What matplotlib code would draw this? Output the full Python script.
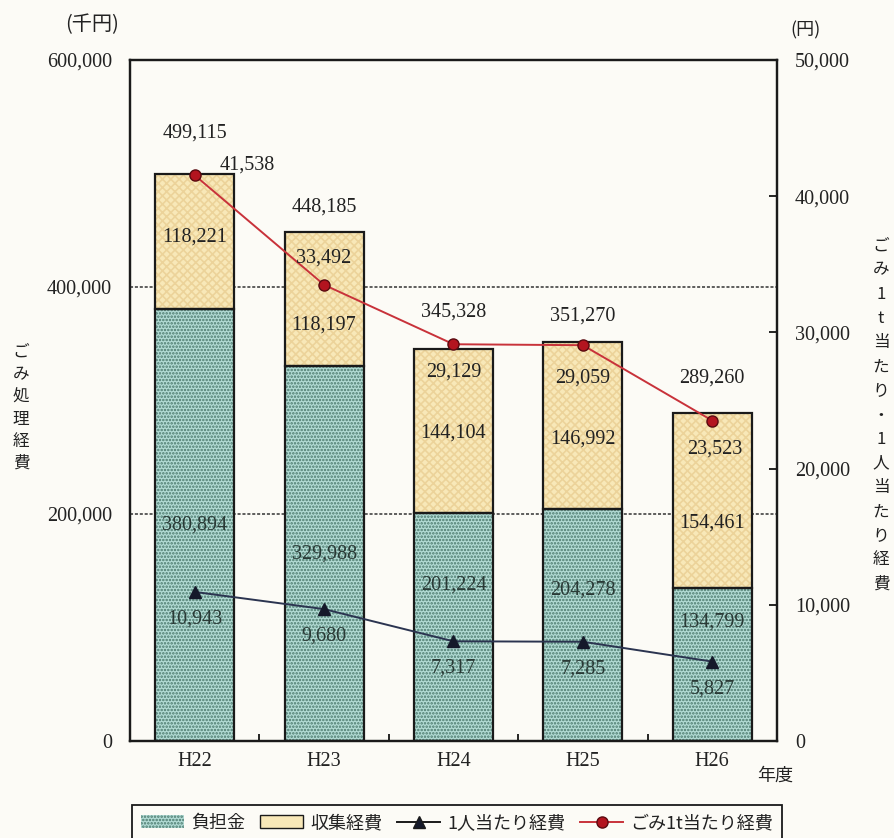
import matplotlib.pyplot as plt
from matplotlib.patches import Patch
from matplotlib.lines import Line2D
from matplotlib.ticker import FuncFormatter, FixedLocator

years = ['H22', 'H23', 'H24', 'H25', 'H26']
futankin = [380894, 329988, 201224, 204278, 134799]      # 負担金
shushu = [118221, 118197, 144104, 146992, 154461]        # 収集経費
per_ton = [41538, 33492, 29129, 29059, 23523]            # ごみ1t当たり経費
per_person = [10943, 9680, 7317, 7285, 5827]             # 1人当たり経費

JP = ['Noto Sans CJK JP', 'DejaVu Sans']
NUM = ['Liberation Serif', 'Noto Sans CJK JP']
txt = '#222222'
bg = '#fcfbf6'
fs = 14.5

plt.rcParams['hatch.linewidth'] = 1.2

fig = plt.figure(figsize=(8.94, 8.38), dpi=100, facecolor=bg)
ax = fig.add_axes([0.1454, 0.1158, 0.7237, 0.8126])
ax.set_facecolor(bg)
x = list(range(len(years)))
w = 0.61
totals = [a + b for a, b in zip(futankin, shushu)]

# dotted grid behind the bars
for yv in (200000, 400000):
    ax.axhline(yv, color='#333333', linestyle=(0, (2, 1.2)), linewidth=1.1, zorder=1)

# bottom: 負担金 (teal, dense dots)
ax.bar(x, futankin, w, color='#b2dbd4', edgecolor='#4a786c', hatch='.....', linewidth=0, zorder=2)
ax.bar(x, futankin, w, fill=False, edgecolor='#1a1a1a', linewidth=1.6, zorder=3)
# top: 収集経費 (light yellow)
ax.bar(x, shushu, w, bottom=futankin, color='#f8e8b8', edgecolor='#ecd39a', hatch='xxxx', linewidth=0, zorder=2)
ax.bar(x, shushu, w, bottom=futankin, fill=False, edgecolor='#1a1a1a', linewidth=1.6, zorder=3)

ax.set_xlim(-0.5, 4.5)
ax.set_ylim(0, 600000)
ax.set_yticks([0, 200000, 400000, 600000])
ax.yaxis.set_major_formatter(FuncFormatter(lambda v, p: f'{int(v):,}'))
ax.set_xticks(x)
ax.set_xticklabels(years)
ax.xaxis.set_minor_locator(FixedLocator([0.5, 1.5, 2.5, 3.5]))
ax.tick_params(axis='x', which='major', length=0, pad=8)
ax.tick_params(axis='x', which='minor', direction='in', length=5, width=1.2)
ax.tick_params(axis='y', direction='in', length=0, pad=13)
for lab in ax.get_xticklabels() + ax.get_yticklabels():
    lab.set_family(NUM)
    lab.set_fontsize(fs)
    lab.set_color(txt)
for s in ax.spines.values():
    s.set_linewidth(1.6)
    s.set_color('#1a1a1a')

# value labels on bars
total_off = [41, 25, 37, 26, 35]
top_off = [5, -26, -2, -13, -23]
bot_off = [0, 0, 42, 35, 42]
for i in x:
    ax.annotate(f'{totals[i]:,}', (i, totals[i]), xytext=(0, total_off[i]), textcoords='offset pixels',
                ha='center', va='center', family=NUM, fontsize=fs, color=txt, zorder=6)
    ax.annotate(f'{shushu[i]:,}', (i, futankin[i] + shushu[i] / 2), xytext=(0, top_off[i]),
                textcoords='offset pixels', ha='center', va='center', family=NUM, fontsize=fs, color=txt, zorder=6)
    ax.annotate(f'{futankin[i]:,}', (i, futankin[i] / 2), xytext=(0, bot_off[i]),
                textcoords='offset pixels', ha='center', va='center', family=NUM, fontsize=fs, color='#2a3a36', zorder=6)

# right axis with lines
ax2 = ax.twinx()
ax2.set_ylim(0, 50000)
ax2.set_yticks(range(0, 50001, 10000))
ax2.yaxis.set_major_formatter(FuncFormatter(lambda v, p: f'{int(v):,}'))
ax2.tick_params(axis='y', direction='in', length=6, width=1.2, pad=13)
for lab in ax2.get_yticklabels():
    lab.set_family(NUM)
    lab.set_fontsize(fs)
    lab.set_color(txt)
for s in ax2.spines.values():
    s.set_linewidth(1.6)
    s.set_color('#1a1a1a')

ax2.plot(x, per_ton, color='#c8323a', linewidth=1.4, marker='o', markersize=8,
         markerfacecolor='#b3141f', markeredgecolor='#5a0a10', zorder=5)
ax2.plot(x, per_person, color='#2b3450', linewidth=1.4, marker='^', markersize=8,
         markerfacecolor='#15192a', markeredgecolor='#15192a', zorder=5)

ton_off = [(53, 10), (0, 27), (0, -28), (0, -33), (2, -28)]
for i in x:
    ax2.annotate(f'{per_ton[i]:,}', (i, per_ton[i]), xytext=ton_off[i], textcoords='offset pixels',
                 ha='center', va='center', family=NUM, fontsize=fs, color=txt, zorder=7)
    ax2.annotate(f'{per_person[i]:,}', (i, per_person[i]), xytext=(0, -27), textcoords='offset pixels',
                 ha='center', va='center', family=NUM, fontsize=fs, color='#2a3a36', zorder=7)

# axis titles
fig.text(92 / 894, 1 - 25 / 838, '(千円)', family=JP, fontsize=14.5, ha='center', va='center', color=txt)
fig.text(806 / 894, 1 - 30 / 838, '(円)', family=JP, fontsize=13, ha='center', va='center', color=txt)
fig.text(775 / 894, 1 - 776 / 838, '年度', family=JP, fontsize=13, ha='center', va='center', color=txt)
fig.text(21 / 894, 1 - 408 / 838, '\n'.join('ごみ処理経費'), family=JP, fontsize=12,
         ha='center', va='center', color=txt, linespacing=1.4)
fig.text(881 / 894, 1 - 415 / 838, '\n'.join('ごみ1t当たり・1人当たり経費'), family=JP, fontsize=12,
         ha='center', va='center', color=txt, linespacing=1.55)

# legend
handles = [
    Patch(facecolor='#b2dbd4', edgecolor='#4a786c', hatch='.....', linewidth=0),
    Patch(facecolor='#f8e8b8', edgecolor='#1a1a1a', linewidth=1.0),
    Line2D([], [], color='#1a1a1a', linewidth=1.4, marker='^', markersize=9, markerfacecolor='#15192a'),
    Line2D([], [], color='#c8323a', linewidth=1.4, marker='o', markersize=8,
           markerfacecolor='#b3141f', markeredgecolor='#5a0a10'),
]
labels = ['負担金', '収集経費', '1人当たり経費', 'ごみ1t当たり経費']
leg = fig.legend(handles, labels, loc='upper center', bbox_to_anchor=(457 / 894, 1 - 796 / 838), ncol=4,
                 frameon=True, fancybox=False, edgecolor='#1a1a1a', facecolor=bg, framealpha=1,
                 prop={'family': JP, 'size': 13}, handlelength=2.4, handletextpad=0.4, columnspacing=0.8,
                 borderpad=0.5)
leg.get_frame().set_linewidth(1.3)
for t in leg.get_texts():
    t.set_color(txt)

fig.savefig('out.png', dpi=100, facecolor=bg)
